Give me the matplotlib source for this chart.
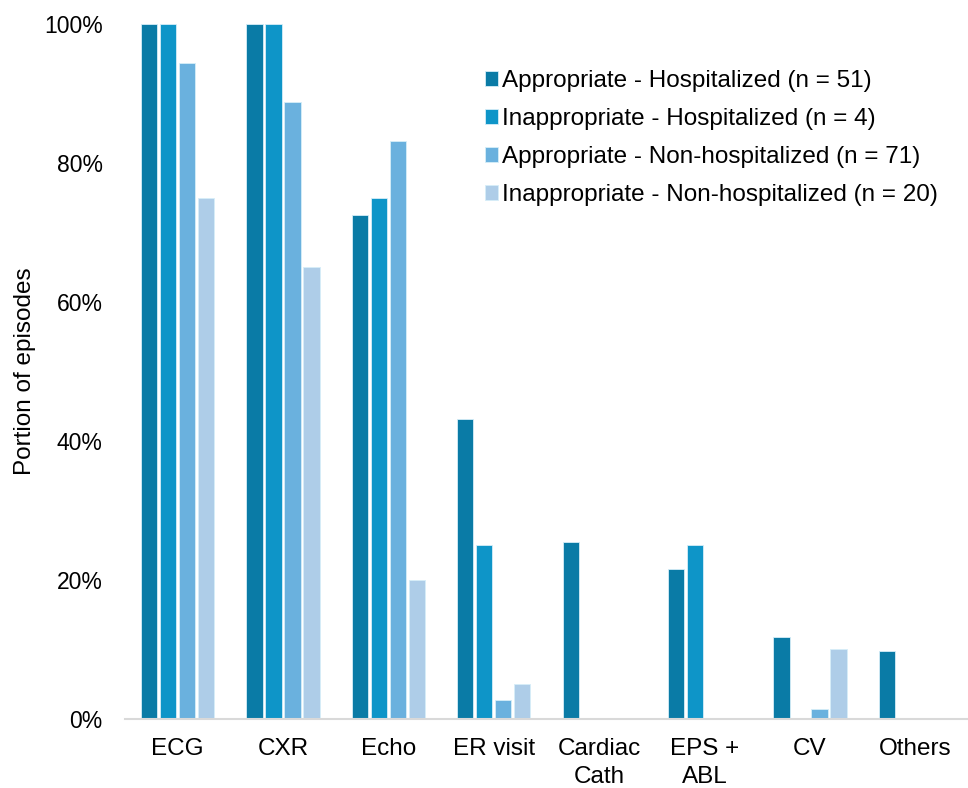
import numpy as np
import matplotlib.pyplot as plt
from matplotlib.ticker import PercentFormatter

plt.rcParams['font.family'] = ['Liberation Sans', 'DejaVu Sans']

tests = ['ECG', 'CXR', 'Echo', 'ER visit', 'Cardiac\nCath', 'EPS +\nABL', 'CV', 'Others']
groups = ['Appropriate - Hospitalized (n = 51)',
          'Inappropriate - Hospitalized (n = 4)',
          'Appropriate - Non-hospitalized (n = 71)',
          'Inappropriate - Non-hospitalized (n = 20)']
appr_hosp = [100, 100, 72.5, 43.1, 25.5, 21.6, 11.8, 9.8]
inappr_hosp = [100, 100, 75, 25, 0, 25, 0, 0]
appr_nonhosp = [94.4, 88.7, 83.1, 2.8, 0, 0, 1.4, 0]
inappr_nonhosp = [75, 65, 20, 5, 0, 0, 10, 0]
colors = ['#0A7BA6', '#0E95C8', '#6AB1DE', '#AECDE8']

fig = plt.figure(figsize=(9.68, 7.88), dpi=100)
ax = fig.add_axes([0.129, 0.0876, 0.871, 0.882])

x = np.arange(len(tests))
step = 0.18
width = 0.155
series = [appr_hosp, inappr_hosp, appr_nonhosp, inappr_nonhosp]
for i, (vals, col, lab) in enumerate(zip(series, colors, groups)):
    ax.bar(x + (i - 1.5) * step, vals, width, color=col, label=lab,
           edgecolor='#D6EEF8', linewidth=0.6)

ax.set_xlim(-0.5, len(tests) - 0.5)
ax.set_ylim(0, 100)
ax.set_yticks(range(0, 101, 20))
ax.yaxis.set_major_formatter(PercentFormatter(decimals=0))
ax.set_xticks(x)
ax.set_xticklabels(tests, fontsize=17.5, linespacing=1.3)
ax.tick_params(axis='both', length=0)
ax.tick_params(axis='y', labelsize=16.5, pad=16)
ax.tick_params(axis='x', pad=14)
for s in ['top', 'right', 'left']:
    ax.spines[s].set_visible(False)
ax.spines['bottom'].set_color('#D9D9D9')
ax.spines['bottom'].set_linewidth(1.5)
ax.set_ylabel('Portion of episodes', fontsize=17.5, labelpad=6)

ax.legend(loc='upper left', bbox_to_anchor=(0.4905, 0.923), bbox_transform=fig.transFigure,
          frameon=False, fontsize=17.5, handlelength=0.55, handleheight=0.55,
          handletextpad=0.15, labelspacing=0.65, borderaxespad=0)

fig.savefig('out.png', dpi=100)
